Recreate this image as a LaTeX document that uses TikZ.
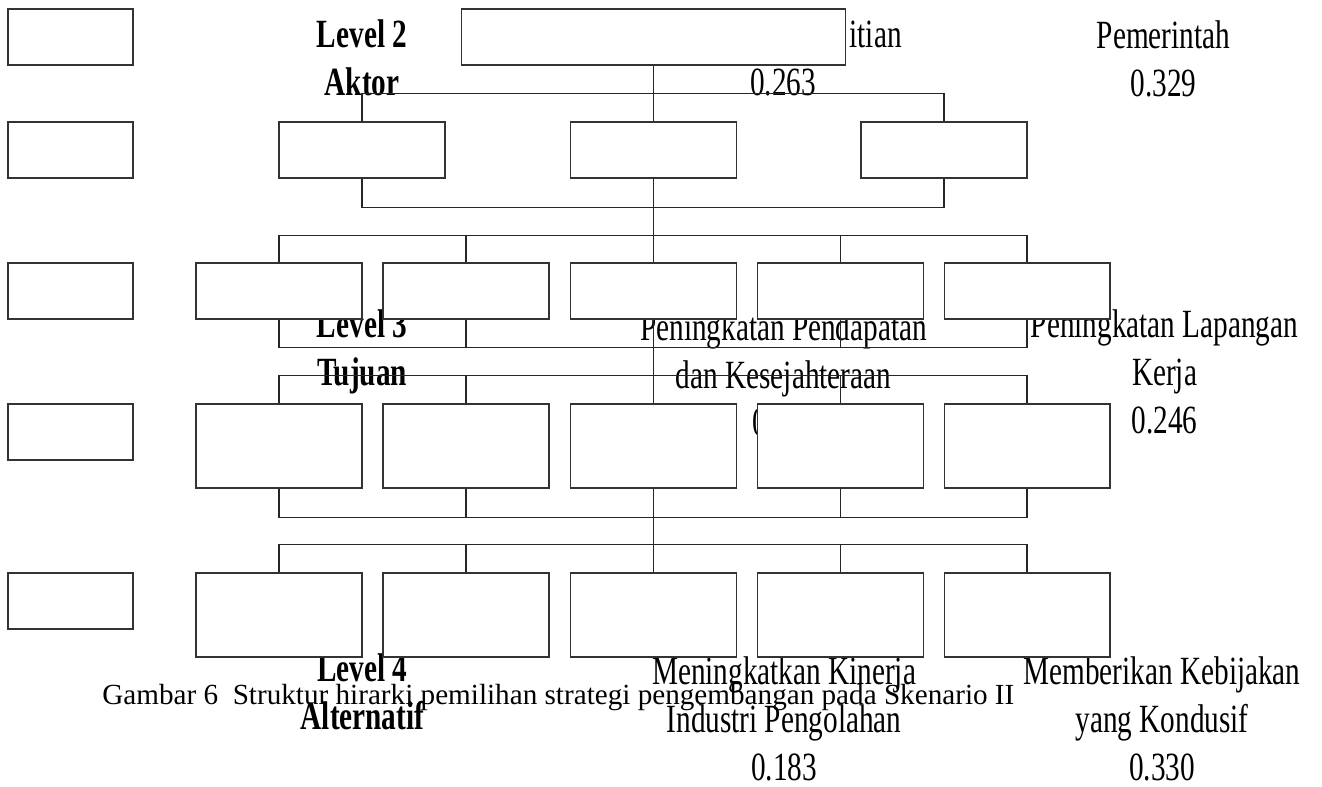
\documentclass[tikz,border=0pt]{standalone}
\usepackage{fontspec}
\usepackage{tikz}
\usetikzlibrary{positioning}

\newfontfamily\lbl[FakeStretch=0.73]{Liberation Serif}
\newfontfamily\capfont{Liberation Serif}
\newcommand{\lblsize}{\fontsize{22.8}{27.3}\selectfont}

\begin{document}
\begin{tikzpicture}[
  x=0.02cm, y=-0.02cm,
  box/.style={draw=black!80, fill=white, line width=0.6pt, inner sep=0pt,
    minimum width=3.32cm, minimum height=1.12cm},
  tallbox/.style={box, minimum height=1.68cm},
  sidebox/.style={box, minimum width=2.5cm},
  txt/.style={font=\lbl\lblsize, align=center, inner sep=0pt, anchor=base},
  lvl/.style={txt, font=\lbl\lblsize\bfseries},
  link/.style={draw=black!85, line width=0.6pt},
]
  \fill[white] (0,0) rectangle (1322,787);
  \useasboundingbox (0,0) rectangle (1322,787);

  % Texts (drawn first, boxes and links go over them);
  % each sits on the baseline of its last line
  \node[lvl] (lv2) at (362,95.7) {Level 2\\Aktor};
  \node[txt, anchor=base east] (pnl) at (902,48) {itian};
  \node[txt] (pnl-w) at (783,95.5) {0.263};
  \node[txt] (pem) at (1163.5,96.5) {Pemerintah\\0.329};

  \node[lvl] (lv3) at (362,385) {Level 3\\Tujuan};
  \node[txt] (pdp) at (783.5,388) {Peningkatan Pendapatan\\dan Kesejahteraan};
  \node[txt, anchor=base west] (pdp-w) at (752.5,435) {0};
  \node[txt] (lap) at (1164.5,433.5) {Peningkatan Lapangan\\Kerja\\0.246};

  \node[lvl] (lv4) at (362.5,729) {Level 4\\Alternatif};
  \node[txt] (knj) at (784,780) {Meningkatkan Kinerja\\Industri Pengolahan\\0.183};
  \node[txt] (kbj) at (1162,780) {Memberikan Kebijakan\\yang Kondusif\\0.330};

  \node[font=\capfont\fontsize{16.6}{20}\selectfont, inner sep=0pt, anchor=base west]
    (cap) at (102,704) {Gambar 6\ \ Struktur hirarki pemilihan strategi pengembangan pada Skenario II};

  % Left column
  \node[sidebox] (lv1) at (70.5,37) {};
  \node[sidebox] (lv2b) at (70.5,150) {};
  \node[sidebox] (lv3b) at (70.5,291) {};
  \node[sidebox] (lv4b) at (70.5,432) {};
  \node[sidebox] (lv5b) at (70.5,601) {};

  % Goal and actors
  \node[box, minimum width=7.7cm] (goal) at (653.5,37) {};
  \node[box] (ak1) at (362,150) {};
  \node[box] (ak2) at (653.5,150) {};
  \node[box] (ak3) at (944,150) {};

  % Rows of five
  \foreach \i/\x in {1/279, 2/466, 3/653.5, 4/840.5, 5/1027} {
    \node[box] (tj\i) at (\x,291) {};
    \node[tallbox] (kr\i) at (\x,446) {};
    \node[tallbox] (alt\i) at (\x,615) {};
  }

  % Links
  \draw[link] (goal.south) -- (ak2.north);
  \draw[link] (ak1.north) -- ++(0,-28) -| (ak3.north);
  \draw[link] (ak1.south) -- ++(0,28.7) -| (ak3.south);
  \draw[link] (ak2.south) -- (tj3.north);

  \draw[link] (tj1.north) -- ++(0,-27.3) -| (tj5.north);
  \draw[link] (tj1.south) -- ++(0,28.3) -| (tj5.south);
  \draw[link] (tj3.south) -- (kr3.north);
  \draw[link] (kr1.north) -- ++(0,-28.3) -| (kr5.north);
  \draw[link] (kr1.south) -- ++(0,28.7) -| (kr5.south);
  \draw[link] (kr3.south) -- (alt3.north);
  \draw[link] (alt1.north) -- ++(0,-28.3) -| (alt5.north);
  \foreach \i in {2,4} {
    \draw[link] (tj\i.north) -- ++(0,-27.3);
    \draw[link] (tj\i.south) -- ++(0,28.3);
    \draw[link] (kr\i.north) -- ++(0,-28.3);
    \draw[link] (kr\i.south) -- ++(0,28.7);
    \draw[link] (alt\i.north) -- ++(0,-28.3);
  }
\end{tikzpicture}
\end{document}
